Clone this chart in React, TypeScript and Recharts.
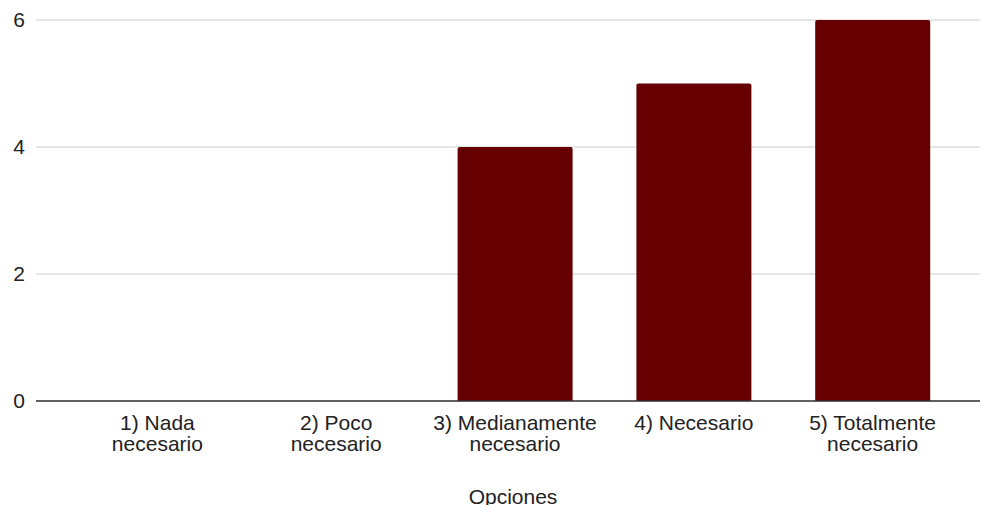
import { BarChart, Bar, XAxis, YAxis, CartesianGrid } from 'recharts';

const categories = ['1) Nada necesario', '2) Poco necesario', '3) Medianamente necesario', '4) Necesario', '5) Totalmente necesario'];
const tickLines = [
  ['1) Nada', 'necesario'],
  ['2) Poco', 'necesario'],
  ['3) Medianamente', 'necesario'],
  ['4) Necesario'],
  ['5) Totalmente', 'necesario'],
];
const counts = [0, 0, 4, 5, 6];
const yTicks = [0, 2, 4, 6];

const data = categories.map((name, i) => ({ name, value: counts[i] }));

const FONT = '"Liberation Sans", Arial, sans-serif';

function CategoryTick({ x, y, index }: any) {
  const lines = tickLines[index] ?? [];
  return (
    <g>
      {lines.map((line, i) => (
        <text key={i} x={x} y={y + 21 + i * 21} textAnchor="middle" fill="#222" fontSize={21} fontFamily={FONT}>
          {line}
        </text>
      ))}
    </g>
  );
}

function AxisTitle({ viewBox }: any) {
  if (!viewBox) return null;
  return (
    <text x={viewBox.x + viewBox.width / 2 + 5} y={504} textAnchor="middle" fill="#222" fontSize={21} fontFamily={FONT}>
      Opciones
    </text>
  );
}

export default function App() {
  return (
    <div style={{ position: 'absolute', left: 0, top: 0, width: 981, height: 505, background: '#fff' }}>
      <BarChart width={981} height={505} data={data} margin={{ top: 20, right: 1, left: 0, bottom: 0 }} barSize={115}>
        <CartesianGrid vertical={false} stroke="#cccccc" />
        <XAxis
          dataKey="name"
          height={104}
          padding={{ left: 32, right: 18 }}
          axisLine={{ stroke: '#333', strokeWidth: 1.5 }}
          tickLine={false}
          tick={<CategoryTick />}
          interval={0}
          label={<AxisTitle />}
        />
        <YAxis
          width={36}
          domain={[0, 6]}
          ticks={yTicks}
          axisLine={false}
          tickLine={false}
          tickSize={6}
          tickMargin={5}
          tick={{ fill: '#222', fontSize: 21, fontFamily: FONT }}
        />
        <Bar dataKey="value" fill="#660000" radius={[2, 2, 0, 0]} isAnimationActive={false} />
      </BarChart>
    </div>
  );
}
